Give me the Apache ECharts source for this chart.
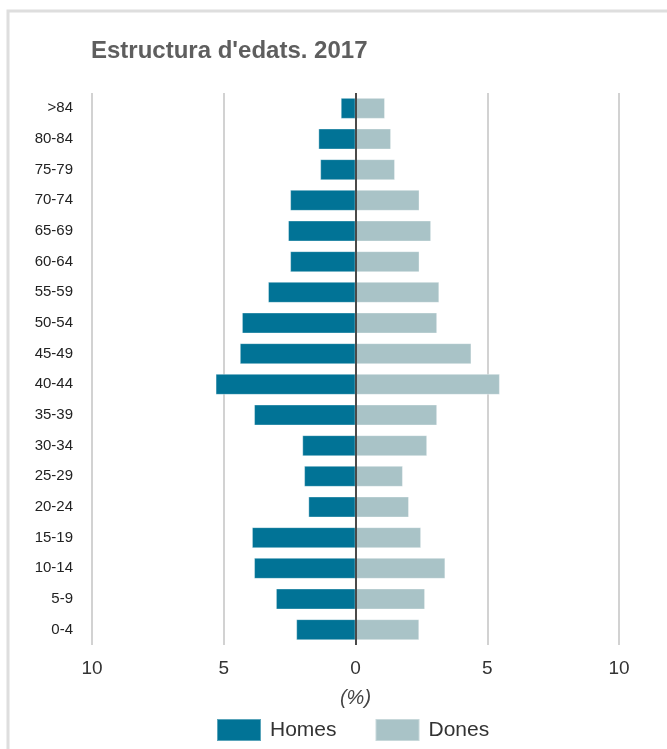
<!DOCTYPE html>
<html>
<head>
<meta charset="utf-8">
<script src="https://cdn.jsdelivr.net/npm/echarts@6/dist/echarts.min.js"></script>
<style>
html,body{margin:0;padding:0;background:#fff;}
#chart{width:667px;height:749px;}
</style>
</head>
<body>
<div id="chart"></div>
<script>
const titleText = "Estructura d'edats. 2017";
const categories = [">84","80-84","75-79","70-74","65-69","60-64","55-59","50-54","45-49","40-44","35-39","30-34","25-29","20-24","15-19","10-14","5-9","0-4"];
const homes = [0.56,1.41,1.34,2.48,2.56,2.48,3.32,4.31,4.39,5.31,3.85,2.02,1.95,1.79,3.93,3.85,3.02,2.25];
const dones = [1.12,1.35,1.50,2.43,2.87,2.43,3.18,3.10,4.40,5.48,3.10,2.72,1.80,2.03,2.49,3.41,2.64,2.42];
const xTicks = [-10,-5,0,5,10];
const xName = "(%)";
const seriesNames = ["Homes","Dones"];

const FONT = "'Liberation Sans', Arial, sans-serif";
const chart = echarts.init(document.getElementById('chart'), null, {renderer:'canvas'});
chart.setOption({
  backgroundColor:'#fff',
  animation:false,
  graphic:[{
    type:'rect', shape:{x:8,y:11,width:700,height:800},
    style:{fill:'none',stroke:'#dedede',lineWidth:3}, silent:true, z:-1
  }],
  title:{
    text:titleText, left:86, top:34,
    textStyle:{fontFamily:FONT,fontSize:24,fontWeight:'bold',color:'#5e5e5e'}
  },
  legend:{
    data:seriesNames, left:211, top:713, itemWidth:44, itemHeight:22, itemGap:38,
    icon:'rect',
    textStyle:{fontFamily:FONT,fontSize:21,color:'#333',padding:[0,0,0,4]},
    selectedMode:false
  },
  grid:{left:92,right:48,top:93,bottom:104,containLabel:false},
  xAxis:{
    type:'value', min:xTicks[0], max:xTicks[xTicks.length-1], interval:5,
    name:xName, nameLocation:'middle', nameGap:43,
    nameTextStyle:{fontFamily:FONT,fontSize:20,fontStyle:'italic',color:'#444'},
    axisLine:{show:false}, axisTick:{show:false},
    axisLabel:{fontFamily:FONT,fontSize:19,color:'#333',margin:14,formatter:v=>Math.abs(v)},
    splitLine:{show:true,lineStyle:{color:'#d2d2d2',width:2}}
  },
  yAxis:{
    type:'category', data:categories, inverse:true,
    axisLine:{show:false}, axisTick:{show:false},
    axisLabel:{fontFamily:FONT,fontSize:15,color:'#222',margin:19}
  },
  series:[
    {
      name:seriesNames[0], type:'bar', stack:'p', barWidth:21,
      data:homes.map(v=>-v),
      itemStyle:{color:'#017396',borderColor:'rgba(255,255,255,0.35)',borderWidth:1},
      markLine:{silent:true,symbol:'none',label:{show:false},
        lineStyle:{color:'#4a4a4a',width:2,type:'solid'},data:[{xAxis:0}]}
    },
    {
      name:seriesNames[1], type:'bar', stack:'p', barWidth:21,
      data:dones,
      itemStyle:{color:'#a9c3c7',borderColor:'rgba(255,255,255,0.35)',borderWidth:1}
    }
  ]
});
</script>
</body>
</html>
